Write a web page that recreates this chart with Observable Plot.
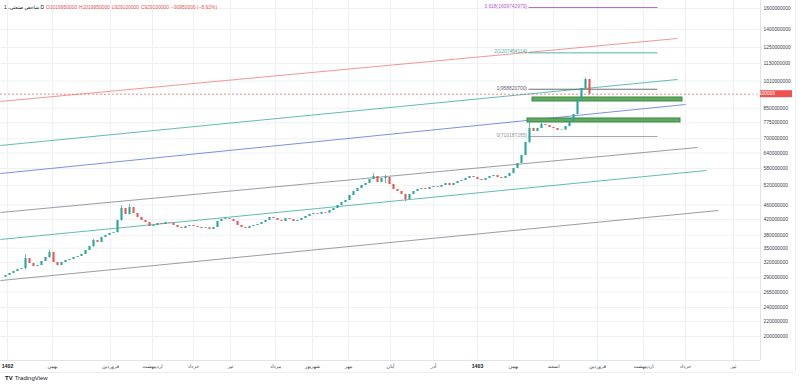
<!DOCTYPE html>
<html><head><meta charset="utf-8">
<script src="https://cdn.jsdelivr.net/npm/d3@7"></script>
<script src="https://cdn.jsdelivr.net/npm/@observablehq/plot@0.6"></script>
<style>
body{margin:0;background:#fff;font-family:"Liberation Sans",Arial,"DejaVu Sans",sans-serif;}
#wrap{position:relative;width:800px;height:387px;overflow:hidden;}
#hdr{position:absolute;left:4px;top:4px;font-size:4.9px;white-space:nowrap;color:#131722;}
#hdr .v{color:#ef5350;margin-left:2px;}
#logo{position:absolute;left:5px;top:375px;font-size:6px;color:#131722;white-space:nowrap;}
#logo b{font-weight:900;margin-right:2px;}
</style></head><body><div id="wrap"><div id="hdr"></div><div id="logo"><b>TV</b>TradingView</div></div>
<script>
// closes in millions, one per bar (bar index = position)
const closes = [294.4,298.1,302.0,305.8,307.7,327.8,317.6,311.6,313.6,321.6,329.9,340.5,319.6,313.6,319.6,323.7,325.7,329.9,332.0,336.3,
344.8,353.7,367.5,362.9,374.6,379.4,384.1,386.0,417.2,450.1,433.3,452.9,436.1,425.2,417.2,411.9,401.6,404.2,409.3,407.0,
411.9,410.5,404.2,399.1,396.6,401.6,404.2,401.6,399.1,396.6,398.0,394.0,399.1,414.5,419.8,422.5,420.0,414.5,404.2,399.1,
396.6,401.6,404.2,406.7,411.9,417.2,425.2,422.5,417.2,414.5,422.5,419.8,414.5,417.2,422.5,427.9,433.3,436.1,434.0,438.9,
437.0,444.5,450.1,458.7,467.6,473.6,488.8,501.3,511.0,520.8,527.5,541.0,551.4,530.8,544.4,547.9,524.1,507.7,501.3,492.0,
476.6,492.0,501.3,507.7,511.0,507.7,514.2,517.5,515.0,520.8,527.5,520.8,527.5,534.2,537.6,544.4,551.4,547.9,541.0,537.6,
544.4,551.4,554.9,547.9,544.4,551.4,562.0,580.0,598.7,629.9,684.0,747.6,733.4,747.6,767.0,762.0,752.3,747.6,738.1,740.0,
757.1,781.5,817.0,892.8,963.0,1020.05,929.1];
const firstOpen = 291.0;
const lastOpen = 1019.95;
// extra wick extremes for selected bars: [index, high, low]
const wicks = [[5,336.0,305.0],[11,345.0,328.0],[22,370.0,352.0],[29,458.0,415.0],[31,462.0,432.0],[92,562.0,540.0],[95,556.0,527.0],
[100,490.0,470.0],[131,796.5,680.0],[134,775.0,755.0],[143,900.0,815.0],[145,1030.0,960.0],[146,1019.95,929.1]];
// header values
const hdrO = 1019950000, hdrH = 1019950000, hdrL = 929100000, hdrC = 929100000, hdrChg = -90950000, hdrPct = -8.92;
// y axis ticks (millions)
const yTicks = [1600,1400,1250,1130,1010,850,775,700,640,580,520,460,420,380,350,320,290,265,240,220,200];
// x axis month labels at bar indices
const monthLabels = ["بهمن","فروردین","اردیبهشت","خرداد","تیر","مرداد","شهریور","مهر","آبان","آذر","بهمن","اسفند","فروردین","اردیبهشت","خرداد","تیر"];
const monthIdx = [11.75,26.25,36.75,47,56.25,67.5,76.75,85.75,96.25,107,127,137,148,159.5,170,182];
const yearLabels = ["1402","1403"];
const yearIdx = [0.5,118];
// channel lines: start index, start value, end index, end value, colour
const chI1 = [-1.25,-1.25,-1.25,-1.25,-1.25,-1.25];
const chV1 = [887.2,671.2,561.9,438.9,369.8,285.1];
const chI2 = [168,168,170,173,175.25,178.25];
const chV2 = [1322.9,1020.0,870.4,662.7,572.8,444.5];
const chColor = ["#f08a8a","#4db6ac","#6b86e0","#8e919a","#4db6ac","#8e919a"];
// fibonacci levels
const fibLevels = ["3.618","2","1","0"];
const fibValues = [1609.742979,1207.454114,958.8207,710.187285];
const fibColors = ["#b15bc7","#3fae9f","#5d606b","#9598a1"];
const fibStart = 130.75, fibEnd = 163;
// green zones
const zoneI1 = [131.75,130.5], zoneI2 = [169.25,168.75], zoneLo = [887.2,776.6], zoneHi = [909.9,796.5];

const up = "#26a69a", down = "#ef5350";
const candles = closes.map((c,i)=>{
  const o = i===0 ? firstOpen : (i===closes.length-1 ? lastOpen : closes[i-1]);
  let h = Math.max(o,c), l = Math.min(o,c);
  const w = wicks.find(d=>d[0]===i);
  if (w) { h = Math.max(h,w[1]); l = Math.min(l,w[2]); }
  return {i,o,c,h,l,col: c>=o ? up : down};
});
const channels = chI1.map((d,k)=>({i1:d,v1:chV1[k],i2:chI2[k],v2:chV2[k],color:chColor[k]}));
const fibs = fibLevels.map((d,k)=>({label:`${d}(${Math.round(fibValues[k]*1e6)})`,v:fibValues[k],color:fibColors[k]}));
const zones = zoneI1.map((d,k)=>({i1:d,i2:zoneI2[k],lo:zoneLo[k],hi:zoneHi[k]}));
const lastClose = closes[closes.length-1];

const font = "Liberation Sans, Arial, DejaVu Sans, sans-serif";
const fs = 4.9;
const plot = Plot.plot({
  width: 800, height: 387, marginTop: 0, marginRight: 40, marginBottom: 27, marginLeft: 0,
  style: {fontFamily: font, fontSize: fs + "px", background: "transparent", color: "#131722"},
  x: {type: "linear", domain: [-1.25, 188.75], axis: null},
  y: {type: "log", domain: [171.7, 1683], axis: null},
  color: {type: "identity"},
  marks: [
    Plot.ruleY(yTicks, {stroke: "#eef0f4", strokeWidth: 1}),
    Plot.ruleX(monthIdx.concat(yearIdx), {stroke: "#eef0f4", strokeWidth: 1}),
    Plot.link(channels, {x1: "i1", y1: "v1", x2: "i2", y2: "v2", stroke: "color", strokeWidth: 0.9}),
    Plot.link(fibs, {x1: () => fibStart, x2: () => fibEnd, y1: "v", y2: "v", stroke: "color", strokeWidth: 0.9}),
    Plot.text(fibs, {x: () => fibStart, y: "v", text: "label", textAnchor: "end", dx: -1.5, dy: -1, fill: "color", fontSize: fs}),
    Plot.rect(zones, {x1: "i1", x2: "i2", y1: "lo", y2: "hi", fill: "#62a864", stroke: "#3b8a3e", strokeWidth: 1}),
    Plot.ruleY([lastClose], {stroke: "#ef5350", strokeDasharray: "2,2", strokeWidth: 0.7}),
    Plot.ruleX(candles, {x: "i", y1: "l", y2: "h", stroke: "col", strokeWidth: 0.7}),
    Plot.ruleX(candles, {x: "i", y1: "o", y2: "c", stroke: "col", strokeWidth: 2.1}),
    Plot.axisY(yTicks, {anchor: "right", tickSize: 0, tickPadding: 3, label: null, tickFormat: d => d3.format("d")(d * 1e6), fill: "#3b3e48", fontSize: fs}),
    Plot.text(monthIdx.map((d,k)=>({i:d,t:monthLabels[k]})), {x: "i", text: "t", frameAnchor: "bottom", dy: 7, fill: "#3b3e48", fontSize: fs}),
    Plot.text(yearIdx.map((d,k)=>({i:d,t:yearLabels[k]})), {x: "i", text: "t", frameAnchor: "bottom", dy: 7, fill: "#131722", fontSize: fs + 0.3, fontWeight: "bold"})
  ]
});
plot.style.position = "absolute"; plot.style.left = "0"; plot.style.top = "0";
document.getElementById("wrap").prepend(plot);

const svg = d3.select(plot);
const yS = plot.scale("y");
const yc = yS.apply(lastClose);
svg.append("line").attr("x1",760.5).attr("x2",760.5).attr("y1",0).attr("y2",360).attr("stroke","#e0e3eb");
svg.append("line").attr("x1",0).attr("x2",760).attr("y1",360.5).attr("y2",360.5).attr("stroke","#e0e3eb");
svg.append("line").attr("x1",795.5).attr("x2",795.5).attr("y1",0).attr("y2",372).attr("stroke","#eceef2");
svg.append("line").attr("x1",0).attr("x2",795).attr("y1",372.5).attr("y2",372.5).attr("stroke","#eceef2");
svg.append("rect").attr("x",760).attr("y",yc-3.5).attr("width",32).attr("height",7).attr("fill","#ef5350");
svg.append("text").attr("x",763).attr("y",yc).attr("dy","0.35em").attr("fill","#ffffff").style("font-size",fs+"px").style("font-family",font).text(d3.format("d")(lastClose*1e6));

const fmt = d3.format("d");
document.getElementById("hdr").innerHTML =
  `<span>1 ،</span><span dir="rtl">شاخص صنعتی</span> <span>D</span>` +
  `<span class="v">O${fmt(hdrO)}</span><span class="v">H${fmt(hdrH)}</span><span class="v">L${fmt(hdrL)}</span>` +
  `<span class="v">C${fmt(hdrC)}</span><span class="v">${fmt(hdrChg).replace("-","−")} (${hdrPct.toFixed(2).replace("-","−")}%)</span>`;
</script></body></html>
